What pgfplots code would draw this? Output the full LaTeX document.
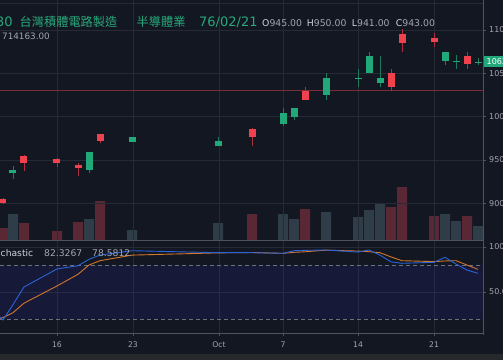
\documentclass[border=0pt]{standalone}
\usepackage{pgfplots}
\pgfplotsset{compat=1.18}
\usepackage{pgfplotstable}
\usepackage{fontspec}
\setmainfont{DejaVu Sans}
\newfontfamily\cjk{Noto Sans CJK TC}
\definecolor{bg}{HTML}{131722}
\definecolor{gridc}{HTML}{262A35}
\definecolor{axisc}{HTML}{50535E}
\definecolor{txt}{HTML}{A3A6AF}
\definecolor{txtl}{HTML}{D1D4DC}
\definecolor{upg}{HTML}{22A97A}
\definecolor{dnr}{HTML}{F0414F}
\definecolor{upgw}{HTML}{1E7A5A}
\definecolor{dnrw}{HTML}{A8313D}
\definecolor{volr}{HTML}{5A2835}
\definecolor{vols}{HTML}{2F3D49}
\definecolor{bandc}{HTML}{3C32FA}
\definecolor{kblue}{HTML}{2B63D9}
\definecolor{dorange}{HTML}{D2762A}
\definecolor{titlec}{HTML}{29A87A}
\definecolor{strip}{HTML}{27282B}
\definecolor{hlinec}{HTML}{7A2C38}
\definecolor{dashc}{HTML}{6E717B}

% candles: x, body low, body high, low, high
\pgfplotstableread{
x blo bhi l h
3 900.4 905.0 899.0 906.0
24 946.5 954.6 937.3 955.5
57 946.5 951.2 942.0 952.0
78 940.8 944.2 931.5 946.5
100 971.9 980.0 969.6 980.5
252 976.5 985.8 966.2 986.5
305 1019.2 1029.6 1019.0 1034.2
391 1034.2 1050.4 1029.6 1055.0
402 1085.0 1095.4 1074.6 1101.2
434 1086.2 1090.8 1080.4 1096.5
467 1060.8 1070.0 1055.0 1074.6
}\redc
\pgfplotstableread{
x blo bhi l h
13 935.0 938.5 928.1 943.1
89 938.5 959.2 935.0 959.5
132 970.8 976.5 970.5 977.0
218 966.2 971.9 965.8 976.5
283 991.5 1004.2 989.2 1010.0
294 999.6 1010.0 996.2 1010.5
326 1025.0 1044.6 1019.2 1050.4
358 1044.2 1045.0 1034.2 1055.0
369 1050.4 1070.0 1050.0 1074.6
380 1038.8 1044.6 1034.2 1070.0
445 1064.2 1074.6 1059.6 1075.0
456 1063.8 1064.6 1055.0 1071.2
478 1062.6 1063.4 1059.6 1067.7
}\greenc
\pgfplotstableread{
x v
3 12
24 17
57 9
78 18
100 39
252 26
305 31
391 33
402 53
434 24
467 24
}\volred
\pgfplotstableread{
x v
13 26
89 21
132 10
218 17
283 26
294 21
326 28
358 23
369 30
380 36
445 26
456 19
478 14
}\volslate
\pgfplotstableread{
x k
-8 28.9
3 18.9
13 36.0
24 55.6
57 75.6
78 79.2
89 86.3
100 91.1
132 95.9
218 93.7
252 93.7
283 93.0
294 95.9
305 96.3
326 96.7
358 94.4
369 96.7
380 91.0
391 83.5
402 81.9
434 83.0
445 88.6
456 81.1
467 74.4
478 70.8
}\stochk
\pgfplotstableread{
x d
-8 19.5
3 21.5
13 27.0
24 37.6
57 56.7
78 69.7
89 80.0
100 84.8
132 91.0
218 93.5
252 93.9
283 93.0
294 94.1
305 94.7
326 96.5
358 95.5
369 94.8
380 93.7
391 89.0
402 84.8
434 83.8
445 84.5
456 84.8
467 80.0
478 75.2
}\stochd

\begin{document}
\begin{tikzpicture}[x=1pt,y=1pt]
\begin{scope}
\clip (0,0) rectangle (503,360);
\fill[bg] (0,0) rectangle (503,360);
\fill[strip] (0,0) rectangle (503,6);
\draw[gridc, line width=0.8pt] (0,357) -- (483,357);

% volume
\begin{axis}[at={(0pt,120pt)}, anchor=south west, scale only axis,
  width=483pt, height=240pt, xmin=0, xmax=483, ymin=0, ymax=240, hide axis]
\addplot[ybar, bar shift=0pt, bar width=10pt, fill=volr, draw=none] table[x=x,y=v] \volred;
\addplot[ybar, bar shift=0pt, bar width=10pt, fill=vols, draw=none] table[x=x,y=v] \volslate;
\end{axis}

% price
\begin{axis}[at={(0pt,120pt)}, anchor=south west, scale only axis,
  width=483pt, height=240pt, xmin=0, xmax=483, ymin=857.7, ymax=1134.6,
  axis line style={draw=none},
  xtick={57,133,219,283,358,434}, xticklabels={},
  ytick={900,950,1000,1050,1100}, yticklabels={900,950,1000,1050,1100},
  xmajorgrids, ymajorgrids, grid style={gridc, line width=0.8pt},
  ytick pos=right, yticklabel pos=right, tick align=outside,
  major tick length=3pt, tick style={axisc, line width=0.6pt},
  xtick style={draw=none},
  yticklabel style={font=\fontsize{8}{9}\selectfont, text=txt, anchor=west, inner sep=0pt, xshift=3pt}]
\addplot[hlinec, line width=0.8pt] coordinates {(0,1030.2) (483,1030.2)};
% wicks
\addplot[-, draw=dnrw, line width=0.9pt, quiver={u=0, v=\thisrow{h}-\thisrow{l}}]
  table[x=x, y=l] \redc;
\addplot[-, draw=upgw, line width=0.9pt, quiver={u=0, v=\thisrow{h}-\thisrow{l}}]
  table[x=x, y=l] \greenc;
% bodies
\addplot[-, draw=dnr, line width=7pt, quiver={u=0, v=\thisrow{bhi}-\thisrow{blo}}]
  table[x=x, y=blo] \redc;
\addplot[-, draw=upg, line width=7pt, quiver={u=0, v=\thisrow{bhi}-\thisrow{blo}}]
  table[x=x, y=blo] \greenc;
\end{axis}

% stochastic
\begin{axis}[at={(0pt,27pt)}, anchor=south west, scale only axis,
  width=483pt, height=93pt, xmin=0, xmax=483, ymin=4.44, ymax=107.8,
  axis line style={draw=none},
  xtick={57,133,219,283,358,434}, xticklabels={16,23,Oct,7,14,21},
  ytick={50,100}, yticklabels={50.00,100.00},
  xmajorgrids, ymajorgrids, grid style={gridc, line width=0.8pt},
  xtick pos=bottom, ytick pos=right, yticklabel pos=right, tick align=outside,
  major tick length=3pt, tick style={axisc, line width=0.6pt},
  yticklabel style={font=\fontsize{8}{9}\selectfont, text=txt, anchor=west, inner sep=0pt, xshift=3pt},
  xticklabel style={font=\fontsize{7.7}{8}\selectfont, text=txt, anchor=base, inner sep=0pt, yshift=-11pt}]
\fill[bandc, fill opacity=0.1] (axis cs:0,20) rectangle (axis cs:483,80);
\addplot[dashc, line width=0.8pt, dash pattern=on 4pt off 3pt] coordinates {(0,80) (483,80)};
\addplot[dashc, line width=0.8pt, dash pattern=on 4pt off 3pt] coordinates {(0,20) (483,20)};
\addplot[dorange, line width=0.9pt] table[x=x,y=d] \stochd;
\addplot[kblue, line width=0.9pt] table[x=x,y=k] \stochk;
\end{axis}

% frame lines
\draw[axisc, line width=0.8pt] (483.5,25) -- (483.5,360);
\draw[axisc, line width=0.8pt] (0,120) -- (483.5,120);
\draw[axisc, line width=0.8pt] (0,26.6) -- (483.5,26.6);

% last price tag
\fill[upg] (483.9,293) rectangle (503,304);
\node[anchor=base west, inner sep=0pt, text=white, font=\fontsize{8}{9}\selectfont] at (486.5,295.5) {1063.00};

% header
\node[anchor=base west, inner sep=0pt, text=titlec, font=\fontsize{13}{13}\selectfont] at (-4,334) {30};
\node[anchor=base west, inner sep=0pt, text=titlec, font=\fontsize{12.2}{13}\selectfont] at (19.5,334) {\cjk 台灣積體電路製造};
\node[anchor=base west, inner sep=0pt, text=titlec, font=\fontsize{12.2}{13}\selectfont] at (136.5,334) {\cjk 半導體業};
\node[anchor=base west, inner sep=0pt, text=titlec, font=\fontsize{13}{13}\selectfont] at (199,334) {76/02/21};
\node[anchor=base west, inner sep=0pt, text=txt, font=\fontsize{8.8}{9}\selectfont] at (2,320.5) {714163.00};
\node[anchor=base west, inner sep=0pt, text=txt, font=\fontsize{9.3}{10}\selectfont] at (262,334) {{\color{txtl}O}945.00};
\node[anchor=base west, inner sep=0pt, text=txt, font=\fontsize{9.3}{10}\selectfont] at (306.7,334) {{\color{txtl}H}950.00};
\node[anchor=base west, inner sep=0pt, text=txt, font=\fontsize{9.3}{10}\selectfont] at (351.7,334) {{\color{txtl}L}941.00};
\node[anchor=base west, inner sep=0pt, text=txt, font=\fontsize{9.3}{10}\selectfont] at (395.7,334) {{\color{txtl}C}943.00};
% stochastic legend
\node[anchor=base west, inner sep=0pt, text=txtl, font=\fontsize{9.2}{10}\selectfont] at (0.5,103.3) {chastic};
\node[anchor=base west, inner sep=0pt, text=txt, font=\fontsize{9.2}{10}\selectfont] at (44,103.3) {82.3267};
\node[anchor=base west, inner sep=0pt, text=txt, font=\fontsize{9.2}{10}\selectfont] at (92,103.3) {78.5812};
\end{scope}
\pgfresetboundingbox
\useasboundingbox (0,0) rectangle (503,360);
\end{tikzpicture}
\end{document}
